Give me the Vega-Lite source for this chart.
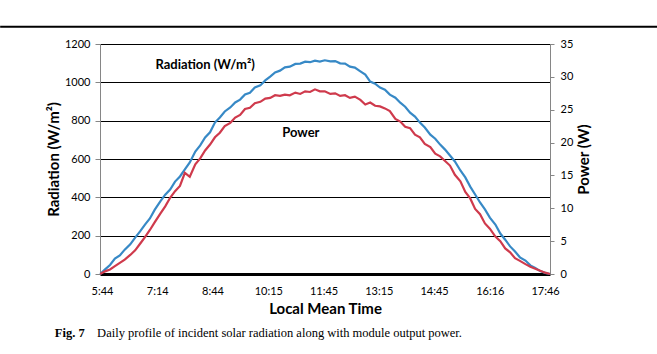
{
  "$schema": "https://vega.github.io/schema/vega-lite/v6.json",
  "autosize": "none",
  "width": 450,
  "height": 230,
  "padding": {"left": 100, "top": 44, "right": 107, "bottom": 80},
  "background": "white",
  "config": {"view": {"stroke": null}, "font": "Lato"},
  "data": {"values": [
    {"t":341,"rad":0,"pw":0},{"t":349,"rad":24,"pw":0.4},{"t":357,"rad":47,"pw":0.7},{"t":365,"rad":80,"pw":1.2},
    {"t":373,"rad":97,"pw":1.7},{"t":381,"rad":127,"pw":2.2},{"t":390,"rad":155,"pw":2.9},{"t":398,"rad":190,"pw":3.6},
    {"t":406,"rad":222,"pw":4.6},{"t":414,"rad":258,"pw":5.6},{"t":422,"rad":290,"pw":6.7},{"t":430,"rad":336,"pw":7.9},
    {"t":439,"rad":379,"pw":9.2},{"t":447,"rad":414,"pw":10.3},{"t":455,"rad":441,"pw":11.6},{"t":463,"rad":482,"pw":12.6},
    {"t":471,"rad":509,"pw":13.4},{"t":479,"rad":546,"pw":15.4},{"t":487,"rad":582,"pw":14.8},{"t":496,"rad":639,"pw":16.7},
    {"t":504,"rad":671,"pw":17.6},{"t":512,"rad":712,"pw":18.8},{"t":520,"rad":739,"pw":19.7},{"t":528,"rad":790,"pw":20.8},
    {"t":536,"rad":817,"pw":21.5},{"t":544,"rad":848,"pw":22.5},{"t":553,"rad":869,"pw":23.0},{"t":561,"rad":895,"pw":23.8},
    {"t":569,"rad":910,"pw":24.2},{"t":577,"rad":937,"pw":25.1},{"t":585,"rad":946,"pw":25.3},{"t":593,"rad":973,"pw":26.0},
    {"t":602,"rad":984,"pw":26.2},{"t":610,"rad":1010,"pw":26.7},{"t":618,"rad":1030,"pw":26.8},{"t":626,"rad":1052,"pw":27.2},
    {"t":634,"rad":1061,"pw":27.1},{"t":642,"rad":1078,"pw":27.3},{"t":650,"rad":1082,"pw":27.2},{"t":659,"rad":1096,"pw":27.6},
    {"t":667,"rad":1098,"pw":27.4},{"t":675,"rad":1108,"pw":27.8},{"t":683,"rad":1105,"pw":27.7},{"t":691,"rad":1113,"pw":28.1},
    {"t":699,"rad":1108,"pw":27.8},{"t":707,"rad":1115,"pw":27.8},{"t":716,"rad":1109,"pw":27.4},{"t":724,"rad":1111,"pw":27.5},
    {"t":732,"rad":1099,"pw":27.1},{"t":740,"rad":1098,"pw":27.2},{"t":748,"rad":1082,"pw":26.8},{"t":756,"rad":1077,"pw":27.0},
    {"t":765,"rad":1057,"pw":26.5},{"t":773,"rad":1040,"pw":25.8},{"t":781,"rad":1004,"pw":26.1},{"t":789,"rad":993,"pw":25.6},
    {"t":797,"rad":973,"pw":25.5},{"t":805,"rad":962,"pw":25.2},{"t":813,"rad":936,"pw":24.8},{"t":822,"rad":920,"pw":23.6},
    {"t":830,"rad":894,"pw":23.2},{"t":838,"rad":873,"pw":22.4},{"t":846,"rad":842,"pw":22.2},{"t":854,"rad":821,"pw":21.2},
    {"t":862,"rad":790,"pw":20.8},{"t":870,"rad":764,"pw":19.8},{"t":879,"rad":727,"pw":19.3},{"t":887,"rad":706,"pw":18.3},
    {"t":895,"rad":675,"pw":17.9},{"t":903,"rad":649,"pw":17.2},{"t":911,"rad":618,"pw":16.5},{"t":919,"rad":587,"pw":15.1},
    {"t":928,"rad":540,"pw":14.1},{"t":936,"rad":504,"pw":12.5},{"t":944,"rad":456,"pw":11.5},{"t":952,"rad":415,"pw":9.9},
    {"t":960,"rad":373,"pw":9.1},{"t":968,"rad":337,"pw":7.7},{"t":976,"rad":294,"pw":6.9},{"t":985,"rad":258,"pw":5.7},
    {"t":993,"rad":211,"pw":5.0},{"t":1001,"rad":179,"pw":3.9},{"t":1009,"rad":144,"pw":3.3},{"t":1017,"rad":117,"pw":2.4},
    {"t":1025,"rad":87,"pw":2.0},{"t":1034,"rad":70,"pw":1.5},{"t":1042,"rad":45,"pw":1.1},{"t":1050,"rad":32,"pw":0.8},
    {"t":1058,"rad":15,"pw":0.5},{"t":1066,"rad":6,"pw":0.2},{"t":1074,"rad":0,"pw":0}
  ]},
  "layer": [
    {
      "mark": {"type": "line", "color": "#3789c6", "strokeWidth": 2.2},
      "encoding": {
        "x": {"field": "t", "type": "quantitative",
          "scale": {"domain": [340.7, 1074], "nice": false, "zero": false},
          "axis": {"title": "Local Mean Time", "values": [344, 434, 524, 615, 705, 795, 885, 976, 1066],
            "labelExpr": "floor(datum.value/60) + ':' + (datum.value % 60 < 10 ? '0' : '') + (datum.value % 60)",
            "ticks": false, "grid": false, "domainColor": "black", "domainWidth": 3, "labelOverlap": false,
            "labelFont": "Lato", "labelFontSize": 11, "labelColor": "black", "labelPadding": 11,
            "titleFont": "Lato", "titleFontSize": 15, "titleFontWeight": "bold", "titleColor": "black", "titlePadding": 5}},
        "y": {"field": "rad", "type": "quantitative",
          "scale": {"domain": [0, 1200], "nice": false},
          "axis": {"title": "Radiation (W/m²)", "values": [0, 200, 400, 600, 800, 1000, 1200], "format": "d", "labelOverlap": false,
            "grid": true, "gridColor": "black", "gridWidth": 1, "gridOpacity": 1,
            "domainColor": "#868686", "tickColor": "#868686", "tickSize": 5,
            "labelFont": "Lato", "labelFontSize": 11, "labelColor": "black", "labelPadding": 5,
            "titleFont": "Lato", "titleFontSize": 15, "titleFontWeight": "bold", "titleColor": "black", "titlePadding": 3}}
      }
    },
    {
      "mark": {"type": "line", "color": "#cf3a4c", "strokeWidth": 2.2},
      "encoding": {
        "x": {"field": "t", "type": "quantitative", "axis": null},
        "y": {"field": "pw", "type": "quantitative",
          "scale": {"domain": [0, 35], "nice": false},
          "axis": {"orient": "right", "title": "Power (W)", "values": [0, 5, 10, 15, 20, 25, 30, 35], "labelOverlap": false,
            "grid": false, "domainColor": "#868686", "tickColor": "#868686", "tickSize": 4,
            "labelFont": "Lato", "labelFontSize": 11, "labelColor": "black", "labelPadding": 6,
            "titleFont": "Lato", "titleFontSize": 15, "titleFontWeight": "bold", "titleColor": "black", "titlePadding": 4,
            "titleAngle": 270, "titleBaseline": "top"}}
      }
    },
    {
      "data": {"values": [{}]},
      "mark": {"type": "text", "font": "Lato", "fontSize": 13, "fontWeight": "bold", "color": "black"},
      "encoding": {"x": {"datum": 512, "axis": null}, "y": {"datum": 1090, "scale": {"domain": [0, 1200], "nice": false}, "axis": null}, "text": {"value": "Radiation (W/m²)"}}
    },
    {
      "data": {"values": [{}]},
      "mark": {"type": "text", "font": "Lato", "fontSize": 13, "fontWeight": "bold", "color": "black"},
      "encoding": {"x": {"datum": 668, "axis": null}, "y": {"datum": 736, "scale": {"domain": [0, 1200], "nice": false}, "axis": null}, "text": {"value": "Power"}}
    },
    {
      "data": {"values": [{}]},
      "mark": {"type": "rule", "color": "black", "strokeWidth": 2},
      "encoding": {"x": {"datum": 178, "axis": null}, "x2": {"datum": 1250}, "y": {"datum": 1290, "scale": {"domain": [0, 1200], "nice": false}, "axis": null}}
    },
    {
      "data": {"values": [{}]},
      "mark": {"type": "text", "font": "Liberation Serif", "fontSize": 12.5, "fontWeight": "bold", "color": "black", "align": "left"},
      "encoding": {"x": {"datum": 267, "axis": null}, "y": {"datum": -308, "scale": {"domain": [0, 1200], "nice": false}, "axis": null}, "text": {"value": "Fig. 7"}}
    },
    {
      "data": {"values": [{}]},
      "mark": {"type": "text", "font": "Liberation Serif", "fontSize": 12.5, "color": "black", "align": "left"},
      "encoding": {"x": {"datum": 336, "axis": null}, "y": {"datum": -308, "scale": {"domain": [0, 1200], "nice": false}, "axis": null}, "text": {"value": "Daily profile of incident solar radiation along with module output power."}}
    }
  ],
  "resolve": {"scale": {"y": "independent"}, "axis": {"x": "independent", "y": "independent"}}
}
